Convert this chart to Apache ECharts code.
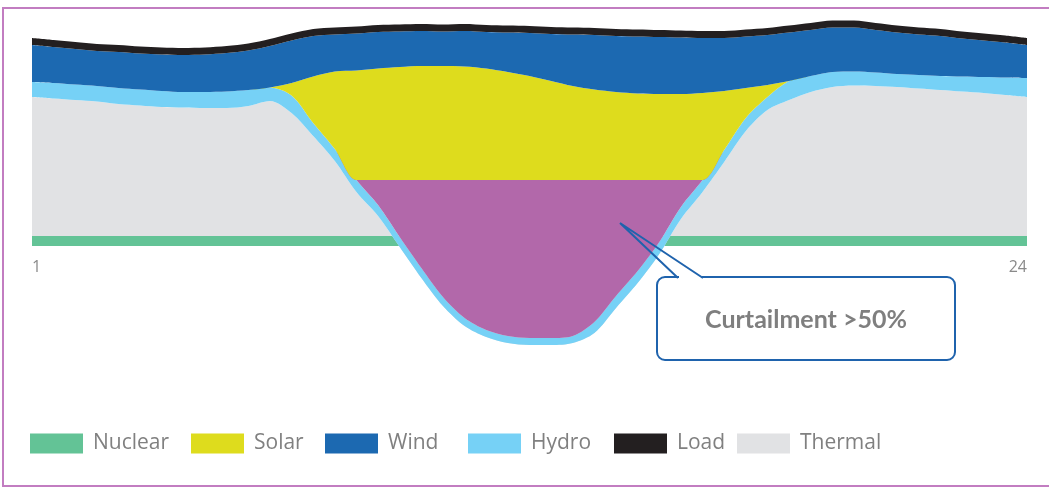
<!DOCTYPE html>
<html>
<head>
<meta charset="utf-8">
<title>Curtailment</title>
<script src="https://cdn.jsdelivr.net/npm/echarts@6/dist/echarts.min.js"></script>
<style>
  html, body { margin: 0; padding: 0; background: #fff; }
  #chart { width: 1049px; height: 491px; }
</style>
</head>
<body>
<div id="chart"></div>
<script>
// half-hour steps over the day
const hours = ["1", "1.5", "2", "2.5", "3", "3.5", "4", "4.5", "5", "5.5", "6", "6.5",
  "7", "7.5", "8", "8.5", "9", "9.5", "10", "10.5", "11", "11.5", "12", "12.5", "13", "13.5",
  "14", "14.5", "15", "15.5", "16", "16.5", "17", "17.5", "18", "18.5", "19", "19.5", "20",
  "20.5", "21", "21.5", "22", "22.5", "23", "23.5", "24"];

// stacked layers, bottom to top
const nuclear = [10, 10, 10, 10, 10, 10, 10, 10, 10, 10, 10, 10,
  10, 10, 10, 10, 10, 10, 10, 10, 10, 10, 10, 10, 10, 10,
  10, 10, 10, 10, 10, 10, 10, 10, 10, 10, 10, 10, 10,
  10, 10, 10, 10, 10, 10, 10, 10];
const thermal = [139, 137.5, 136, 134.5, 132, 130.5, 129, 128.5, 128, 128, 130, 135,
  123, 100, 75, 44, 20, -11, -42, -70, -90, -101, -107, -109, -109, -107,
  -97, -72, -47, -18, 17, 44, 74, 105, 126, 136, 144, 149, 150.5,
  150, 149, 147.5, 146, 144.5, 143, 141, 139];
const hydro = [15, 15.5, 15.5, 15.5, 16, 16, 16, 15.5, 16, 16.5, 16, 13.5,
  17.5, 13, 12, 12, 11, 10, 10, 9, 8, 7, 7, 7, 7, 7,
  11, 12, 12, 12, 12, 12, 12, 13, 13, 19, 16, 15, 14,
  13.5, 13, 13.5, 14, 15, 16, 17.5, 19];
const curtailment = [0, 0, 0, 0, 0, 0, 0, 0, 0, 0, 0, 0,
  0, 0, 0, 0, 25, 57, 88, 117, 138, 150, 156, 158, 158, 156,
  142, 116, 91, 62, 27, 0, 0, 0, 0, 0, 0, 0, 0,
  0, 0, 0, 0, 0, 0, 0, 0];
const solar = [0, 0, 0, 0, 0, 0, 0, 0, 0, 0, 0, 0,
  12.5, 46.5, 77.5, 109.5, 111.5, 113, 114, 114, 113.5, 111.5, 108, 104, 99, 94,
  90.5, 88, 86.5, 86, 86, 87, 59, 30, 12, 0, 0, 0, 0,
  0, 0, 0, 0, 0, 0, 0, 0];
const wind = [37, 36, 35.5, 35, 36, 36, 36.5, 37, 37.5, 38.5, 39.5, 41.5,
  42.5, 40.5, 37, 37, 36.5, 35.5, 35, 34.5, 35.5, 36.5, 39.5, 43, 47, 51.5,
  54.5, 56, 57, 57, 56.5, 55, 53, 51.5, 50, 48.5, 46, 44.5, 44,
  42.5, 41.5, 40.5, 40, 38, 36.5, 35, 33];
const load = [7, 7, 7, 7, 7, 7, 7, 7, 7, 7, 7, 7,
  7, 7, 7, 7, 7, 7, 7, 7, 7, 7, 7, 7, 7, 7,
  7, 7, 7, 7, 7, 7, 7, 7, 7, 7, 7, 7, 7,
  7, 7, 7, 7, 7, 7, 7, 7];

const legendNames = ["Nuclear", "Solar", "Wind", "Hydro", "Load", "Thermal"];
const axisEnds = ["1", "24"];
const calloutText = "Curtailment >50%";

const colors = {
  Nuclear: "#63c396",
  Thermal: "#e1e2e4",
  Hydro: "#76d1f6",
  Curtailment: "#b268aa",
  Solar: "#dedc1d",
  Wind: "#1c69b1",
  Load: "#231f20"
};
// left edge of each legend swatch
const legendLeft = [30, 191, 325, 468, 614, 737];

function layer(name, values) {
  return {
    name: name,
    type: "line",
    stack: "mix",
    stackStrategy: "all",
    smooth: 0.3,
    symbol: "none",
    lineStyle: { width: 0, opacity: 0 },
    itemStyle: { color: colors[name] },
    areaStyle: { color: colors[name], opacity: 1 },
    emphasis: { disabled: true },
    data: values
  };
}

let myChart = echarts.init(document.getElementById("chart"));
let option = {
  animation: false,
  grid: { left: 32, right: 22, top: 16, bottom: 125 },
  legend: legendNames.map((n, i) => ({
    data: [n],
    left: legendLeft[i],
    top: 433,
    padding: 0,
    icon: "rect",
    itemWidth: 53,
    itemHeight: 20,
    selectedMode: false,
    textStyle: {
      fontFamily: "Open Sans",
      fontSize: 21,
      color: "#808080",
      padding: [0, 0, 0, 5]
    }
  })),
  xAxis: {
    type: "category",
    boundaryGap: false,
    data: hours,
    offset: -120,
    axisLine: { show: false, onZero: false },
    axisTick: { show: false },
    splitLine: { show: false },
    axisLabel: {
      margin: 13,
      fontSize: 16,
      fontFamily: "Open Sans",
      color: "#8a8a8a",
      interval: 0,
      alignMinLabel: "left",
      alignMaxLabel: "right",
      formatter: v => (axisEnds.indexOf(v) >= 0 ? v : "")
    }
  },
  yAxis: {
    type: "value",
    min: -120,
    max: 230,
    show: false,
    splitLine: { show: false }
  },
  series: [
    layer("Nuclear", nuclear),
    layer("Thermal", thermal),
    layer("Hydro", hydro),
    layer("Curtailment", curtailment),
    layer("Solar", solar),
    layer("Wind", wind),
    layer("Load", load)
  ],
  graphic: [
    // outer frame
    {
      type: "rect",
      z: 100,
      silent: true,
      shape: { x: 3, y: 8, width: 1070, height: 478 },
      style: { fill: "none", stroke: "#c27dc1", lineWidth: 2 }
    },
    // callout box
    {
      type: "rect",
      z: 100,
      silent: true,
      shape: { x: 657, y: 277, width: 298, height: 83, r: 8 },
      style: { fill: "#fff", stroke: "#1f63ad", lineWidth: 2 }
    },
    {
      type: "polyline",
      z: 101,
      silent: true,
      shape: { points: [[679, 277], [702, 277]] },
      style: { stroke: "#fff", lineWidth: 4 }
    },
    {
      type: "polyline",
      z: 102,
      silent: true,
      shape: { points: [[678, 278], [620, 223], [703, 278]] },
      style: { fill: "none", stroke: "#1f63ad", lineWidth: 2 }
    },
    {
      type: "text",
      z: 103,
      silent: true,
      x: 806,
      y: 320,
      style: {
        text: calloutText,
        font: "bold 25px Lato",
        fill: "#7f7f7f",
        align: "center",
        verticalAlign: "middle"
      }
    }
  ]
};
myChart.setOption(option);
</script>
</body>
</html>
